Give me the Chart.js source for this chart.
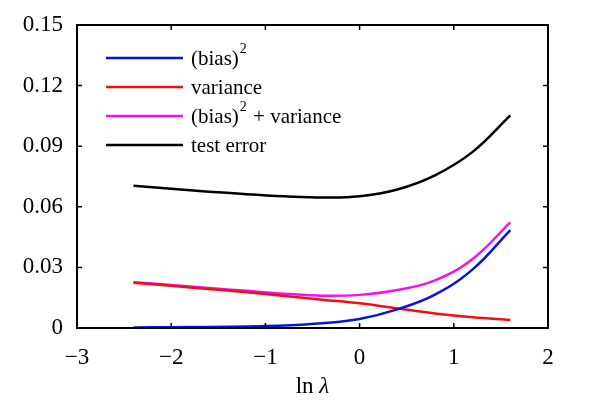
<!DOCTYPE html>
<html>
<head>
<meta charset="utf-8">
<script src="https://cdn.jsdelivr.net/npm/chart.js@4"></script>
<style>
  html, body { margin: 0; padding: 0; background: #fff; }
  #wrap { width: 600px; height: 406px; }
</style>
</head>
<body>
<div id="wrap"><canvas id="chart" width="600" height="406"></canvas></div>
<script>
// ln(lambda) sample positions (evenly spaced so the curves stay smooth)
const lnLambda = [-2.4, -2.0, -1.6, -1.2, -0.8, -0.4, 0, 0.4, 0.8, 1.2, 1.6];

// series values
const biasSq   = [0.0003, 0.0004, 0.0005, 0.0008, 0.0012, 0.0023, 0.0045, 0.0092, 0.0165, 0.0290, 0.0485];
const variance = [0.0224, 0.0209, 0.0193, 0.0177, 0.0159, 0.0140, 0.0122, 0.0097, 0.0072, 0.0053, 0.0040];
const biasVar  = [0.0227, 0.0213, 0.0198, 0.0184, 0.0170, 0.0160, 0.0164, 0.0188, 0.0236, 0.0342, 0.0523];
const testErr  = [0.0704, 0.0689, 0.0675, 0.0662, 0.0652, 0.0646, 0.0652, 0.0686, 0.0756, 0.0872, 0.1053];

const xTicks = [-3, -2, -1, 0, 1, 2];
const yTicks = [0, 0.03, 0.06, 0.09, 0.12, 0.15];

const FONT = '"Liberation Serif", "DejaVu Serif", serif';

const toPoints = (ys) => ys.map((y, i) => ({ x: lnLambda[i], y }));

const series = [
  { label: '(bias)^2', data: biasSq, color: '#0a14d8' },
  { label: 'variance', data: variance, color: '#f01010' },
  { label: '(bias)^2 + variance', data: biasVar, color: '#f010f0' },
  { label: 'test error', data: testErr, color: '#000000' },
];

// draw text with "^2" as a superscript
function drawRich(ctx, text, x, y) {
  const parts = text.split('^2');
  let cx = x;
  parts.forEach((p, i) => {
    ctx.font = '21px ' + FONT;
    ctx.fillText(p, cx, y);
    cx += ctx.measureText(p).width;
    if (i < parts.length - 1) {
      ctx.font = '14px ' + FONT;
      ctx.fillText('2', cx + 1, y - 10);
      cx += ctx.measureText('2').width + 2;
    }
  });
}

// box frame, inward ticks on all four sides, legend inside the plot
const framePlugin = {
  id: 'frame',
  afterDraw(chart) {
    const { ctx, chartArea: a, scales } = chart;
    ctx.save();
    ctx.strokeStyle = '#000';
    ctx.lineWidth = 2;
    ctx.strokeRect(a.left, a.top, a.right - a.left, a.bottom - a.top);
    ctx.lineWidth = 1.5;
    ctx.beginPath();
    xTicks.forEach(v => {
      const px = scales.x.getPixelForValue(v);
      ctx.moveTo(px, a.bottom); ctx.lineTo(px, a.bottom - 5);
      ctx.moveTo(px, a.top); ctx.lineTo(px, a.top + 5);
    });
    yTicks.forEach(v => {
      const py = scales.y.getPixelForValue(v);
      ctx.moveTo(a.left, py); ctx.lineTo(a.left + 5, py);
      ctx.moveTo(a.right, py); ctx.lineTo(a.right - 5, py);
    });
    ctx.stroke();

    // legend
    ctx.textBaseline = 'middle';
    ctx.fillStyle = '#000';
    const rows = [58, 87, 116, 145];
    series.forEach((s, i) => {
      ctx.strokeStyle = s.color;
      ctx.lineWidth = 2.5;
      ctx.beginPath();
      ctx.moveTo(106, rows[i]);
      ctx.lineTo(183, rows[i]);
      ctx.stroke();
      drawRich(ctx, s.label, 191, rows[i] + 1);
    });

    // axis title: ln (upright) + lambda (italic)
    ctx.textBaseline = 'alphabetic';
    ctx.font = '23px ' + FONT;
    const w1 = ctx.measureText('ln ').width;
    ctx.font = 'italic 23px ' + FONT;
    const w2 = ctx.measureText('λ').width;
    const cx = (a.left + a.right) / 2 - (w1 + w2) / 2;
    ctx.font = '23px ' + FONT;
    ctx.fillText('ln ', cx, 393);
    ctx.font = 'italic 23px ' + FONT;
    ctx.fillText('λ', cx + w1, 393);
    ctx.restore();
  }
};

new Chart(document.getElementById('chart'), {
  type: 'line',
  data: {
    datasets: series.map(s => ({
      label: s.label,
      data: toPoints(s.data),
      borderColor: s.color,
      backgroundColor: s.color,
      borderWidth: 2.5,
      pointRadius: 0,
      tension: 0.4,
      fill: false,
    })),
  },
  options: {
    responsive: false,
    animation: false,
    layout: { padding: { top: 25, right: 52, left: 0, bottom: 0 } },
    plugins: { legend: { display: false }, tooltip: { enabled: false } },
    scales: {
      x: {
        type: 'linear',
        min: -3,
        max: 2,
        afterBuildTicks: (scale) => { scale.ticks = xTicks.map(v => ({ value: v })); },
        afterFit: (scale) => { scale.height = 78; },
        grid: { display: false },
        border: { display: false },
        ticks: {
          color: '#000',
          font: { family: FONT, size: 23 },
          padding: 8,
          maxRotation: 0,
          callback: (v) => (v < 0 ? '\u2212' + Math.abs(v) : String(v)),
        },
      },
      y: {
        type: 'linear',
        min: 0,
        max: 0.15,
        afterBuildTicks: (scale) => { scale.ticks = yTicks.map(v => ({ value: v })); },
        afterFit: (scale) => { scale.width = 77; },
        grid: { display: false },
        border: { display: false },
        ticks: {
          color: '#000',
          font: { family: FONT, size: 23 },
          padding: 6,
          callback: (v) => (v === 0 ? '0' : v.toFixed(2)),
        },
      },
    },
  },
  plugins: [framePlugin],
});
</script>
</body>
</html>
